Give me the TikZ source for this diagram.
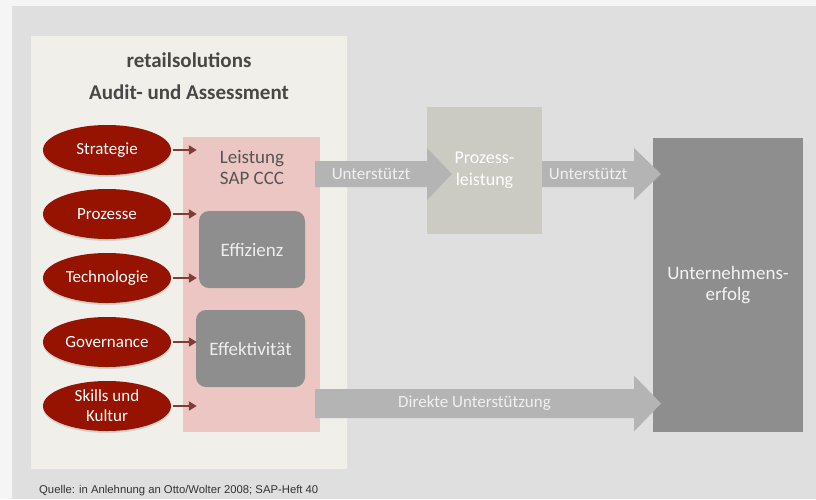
\documentclass[tikz,border=0pt]{standalone}
\usepackage{fontspec}
\setmainfont{Carlito}
\newfontfamily\quellefont{Liberation Sans}
\usetikzlibrary{calc,arrows.meta,shapes.geometric,shadows}

\definecolor{outerbg}{HTML}{F5F5F5}
\definecolor{slidebg}{HTML}{DFDFDF}
\definecolor{panelbg}{HTML}{F0EFE9}
\definecolor{cccpink}{HTML}{ECC6C2}
\definecolor{factorred}{HTML}{951300}
\definecolor{feedred}{HTML}{823A3A}
\definecolor{boxgray}{HTML}{8E8E8E}
\definecolor{fatgray}{HTML}{B4B4B4}
\definecolor{plgray}{HTML}{CBCBC4}
\definecolor{titlegray}{HTML}{474747}
\definecolor{cccgray}{HTML}{555555}

% fat arrow: start, tip, half body, half head, head length, label
\newcommand{\fatarrow}[6]{%
  \fill[fatgray] ($(#1)+(0,-#3)$) -- ($(#2)+(-#5,-#3)$) -- ($(#2)+(-#5,-#4)$) -- (#2)
    -- ($(#2)+(-#5,#4)$) -- ($(#2)+(-#5,#3)$) -- ($(#1)+(0,#3)$) -- cycle;
  \path (#1) -- ($(#2)+(-#5,0)$) node[midway, arrowlabel] {#6};
}

\begin{document}
\begin{tikzpicture}[
  x=1pt, y=-1pt,
  panel/.style={rectangle, fill=panelbg, minimum width=316pt, minimum height=433pt, inner sep=0pt},
  title/.style={font=\fontsize{21}{25}\selectfont\bfseries, text=titlegray, inner sep=0pt},
  factor/.style={ellipse, fill=factorred, minimum width=128pt, minimum height=50pt, inner sep=0pt,
    text=white, align=center, font=\fontsize{17}{20}\selectfont,
    drop shadow={opacity=0.25, shadow xshift=0pt, shadow yshift=-2pt}},
  cccbox/.style={rectangle, fill=cccpink, minimum width=137pt, minimum height=295pt, inner sep=0pt},
  kpi/.style={rectangle, rounded corners=10pt, fill=boxgray, minimum height=77pt, inner sep=0pt,
    text=white!93!black, font=\fontsize{19}{22}\selectfont},
  feed/.style={-{Triangle[length=8pt,width=9pt]}, line width=2.6pt, draw=feedred},
  arrowlabel/.style={text=white!94!black, font=\fontsize{17}{20}\selectfont, inner sep=0pt},
  node distance=64pt
]
\fill[outerbg] (0,0) rectangle (816,499);
\fill[slidebg] (12,6) rectangle (816,499);
\useasboundingbox (0,0) rectangle (816,499);

\node[panel] (panel) at (189,252.5) {};
\node[title] (rs) at (189,60) {retailsolutions};
\node[title] (aa) at (189,92) {Audit- und Assessment};

\node[cccbox] (ccc) at (251.5,284.5) {};
\node[align=center, text=cccgray, font=\fontsize{19}{21}\selectfont, inner sep=0pt] (ccctext) at (252,168) {Leistung\\SAP CCC};
\node[kpi, minimum width=106pt] (effi) at (252,249.5) {Effizienz};
\node[kpi, minimum width=109pt] (effe) at (250.5,348.5) {Effektivität};

\node[factor] (strat) at (107,150) {Strategie};
\node[factor, below of=strat] (proz) {Prozesse};
\node[factor, below of=proz] (tech) {Technologie};
\node[factor, below of=tech] (gov) {Governance};
\node[factor, below of=gov] (skills) {Skills und\\Kultur};

\foreach \f in {strat,proz,tech,gov,skills}
  \draw[feed] ([xshift=2pt]\f.east) -- ([xshift=14pt]\f -| ccc.west);

\node[rectangle, fill=plgray, minimum width=115pt, minimum height=127pt, align=center,
  text=white, font=\fontsize{18}{22}\selectfont] (pl) at (484.5,170.5) {Prozess-\\leistung};
\node[rectangle, fill=boxgray, minimum width=150pt, minimum height=294pt, align=center,
  text=white!95!black, font=\fontsize{19}{21}\selectfont] (ue) at (728,285) {Unternehmens-\\erfolg};

\coordinate (a1s) at (315,174);
\coordinate (a1t) at (452,174);
\coordinate (a2s) at (pl.east |- a1s);
\coordinate (a2t) at (661,174);
\coordinate (a3s) at (315,403.5);
\coordinate (a3t) at (661,403.5);
\fatarrow{a1s}{a1t}{13}{26}{25}{Unterstützt}
\fatarrow{a2s}{a2t}{13}{26}{27}{Unterstützt}
\fatarrow{a3s}{a3t}{14.5}{28}{27}{Direkte Unterstützung}

\node[anchor=west, inner sep=0pt, text=black!80, font=\quellefont\fontsize{11.3}{13}\selectfont] (quelle) at (39,491) {Quelle: in Anlehnung an Otto/Wolter 2008; SAP-Heft 40};
\end{tikzpicture}
\end{document}
